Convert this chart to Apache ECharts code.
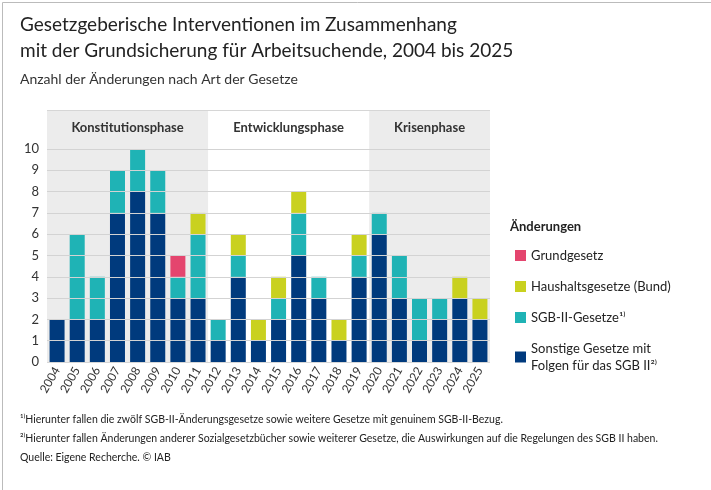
<!DOCTYPE html>
<html><head><meta charset="utf-8">
<script src="https://cdn.jsdelivr.net/npm/echarts@6/dist/echarts.min.js"></script>
<style>html,body{margin:0;background:#fff}#c{width:711px;height:490px}</style>
</head><body><div id="c"></div>
<script>
var years = ['2004','2005','2006','2007','2008','2009','2010','2011','2012','2013','2014','2015','2016','2017','2018','2019','2020','2021','2022','2023','2024','2025']
var sonstige = [2,2,2,7,8,7,3,3,1,4,1,2,5,3,1,4,6,3,1,2,3,2]
var sgb2 =     [0,4,2,2,2,2,1,3,1,1,0,1,2,1,0,1,1,2,2,1,0,0]
var haushalt = [0,0,0,0,0,0,0,1,0,1,1,1,1,0,1,1,0,0,0,0,1,1]
var grundgesetz = [0,0,0,0,0,0,1,0,0,0,0,0,0,0,0,0,0,0,0,0,0,0]
var phases = [['Konstitutionsphase',0,8,'#ececec'],['Entwicklungsphase',8,16,'rgba(0,0,0,0)'],['Krisenphase',16,22,'#ececec']]
var yTicks = [0,1,2,3,4,5,6,7,8,9,10]

var myChart = echarts.init(document.getElementById('c'))
var font = 'Lato, "Open Sans", sans-serif'
function bar(name, data, color) {
  return { name: name, type: 'bar', stack: 's', data: data.map(function (v) { return v || null }),
    barWidth: 15, itemStyle: { color: color }, z: 3 }
}
var option = {
  textStyle: { fontFamily: font },
  animation: false,
  grid: { left: 47, right: 221, top: 110, bottom: 128 },
  xAxis: [
    { type: 'category', data: years, axisTick: { show: false }, axisLine: { show: false },
      axisLabel: { rotate: 60, color: '#333', fontSize: 12, margin: 6 } },
    { type: 'value', min: 0, max: 22, show: false }
  ],
  yAxis: { type: 'value', min: 0, max: 11.83, interval: 1, splitLine: { show: false },
    axisTick: { show: false }, axisLine: { show: false },
    axisLabel: { color: '#333', fontSize: 13, margin: 8, formatter: function (v) { return v <= 10 ? v : '' } } },
  legend: {
    orient: 'vertical', left: 510, top: 242, itemWidth: 11, itemHeight: 11, itemGap: 14,
    icon: 'rect', textStyle: { fontSize: 13, color: '#222', lineHeight: 17 },
    data: ['Grundgesetz', 'Haushaltsgesetze (Bund)', 'SGB-II-Gesetze¹⁾', 'Sonstige Gesetze mit\nFolgen für das SGB II²⁾']
  },
  series: [
    { type: 'line', xAxisIndex: 1, data: [], silent: true,
      markArea: { silent: true,
        label: { position: 'insideTop', distance: 11, fontSize: 13, fontWeight: 'bold', color: '#333' },
        data: phases.map(function (p) {
          return [{ name: p[0], xAxis: p[1], yAxis: 0, itemStyle: { color: p[3] } }, { xAxis: p[2], yAxis: 11.83 }]
        }) },
      markLine: { silent: true, symbol: 'none', label: { show: false },
        lineStyle: { color: '#d6d6d6', type: 'solid', width: 1 },
        data: yTicks.map(function (v) { return { yAxis: v } }).concat([{ yAxis: 11.83 }]) },
      z: 1 },
    bar('Sonstige Gesetze mit\nFolgen für das SGB II²⁾', sonstige, '#003a7d'),
    bar('SGB-II-Gesetze¹⁾', sgb2, '#1fb3b5'),
    bar('Haushaltsgesetze (Bund)', haushalt, '#c9d11f'),
    bar('Grundgesetz', grundgesetz, '#e4456e'),
    { type: 'line', xAxisIndex: 1, data: [], silent: true, z: 10,
      markLine: { silent: true, symbol: 'none', label: { show: false },
        lineStyle: { color: 'rgba(210,210,210,0.8)', type: 'solid', width: 1 },
        data: yTicks.slice(1).map(function (v) { return { yAxis: v } }) } }
  ],
  graphic: [
    { type: 'text', left: 20, top: 12, style: { text: 'Gesetzgeberische Interventionen im Zusammenhang\nmit der Grundsicherung für Arbeitsuchende, 2004 bis 2025',
      fontSize: 19, lineHeight: 26, fill: '#222', fontFamily: font } },
    { type: 'text', left: 20, top: 72, style: { text: 'Anzahl der Änderungen nach Art der Gesetze', fontSize: 14, fill: '#333', fontFamily: font } },
    { type: 'text', left: 510, top: 220, style: { text: 'Änderungen', fontSize: 13, fontWeight: 'bold', fill: '#222', fontFamily: font } },
    { type: 'text', left: 20, top: 410, style: { text: '¹⁾Hierunter fallen die zwölf SGB-II-Änderungsgesetze sowie weitere Gesetze mit genuinem SGB-II-Bezug.\n²⁾Hierunter fallen Änderungen anderer Sozialgesetzbücher sowie weiterer Gesetze, die Auswirkungen auf die Regelungen des SGB II haben.\nQuelle: Eigene Recherche. © IAB',
      fontSize: 10.5, lineHeight: 19, fill: '#222', fontFamily: font } },
    { type: 'rect', left: 0, top: 0, shape: { width: 710, height: 489 }, style: { fill: 'none', stroke: '#bbb', lineWidth: 1 } }
  ]
}
myChart.setOption(option)
</script></body></html>
